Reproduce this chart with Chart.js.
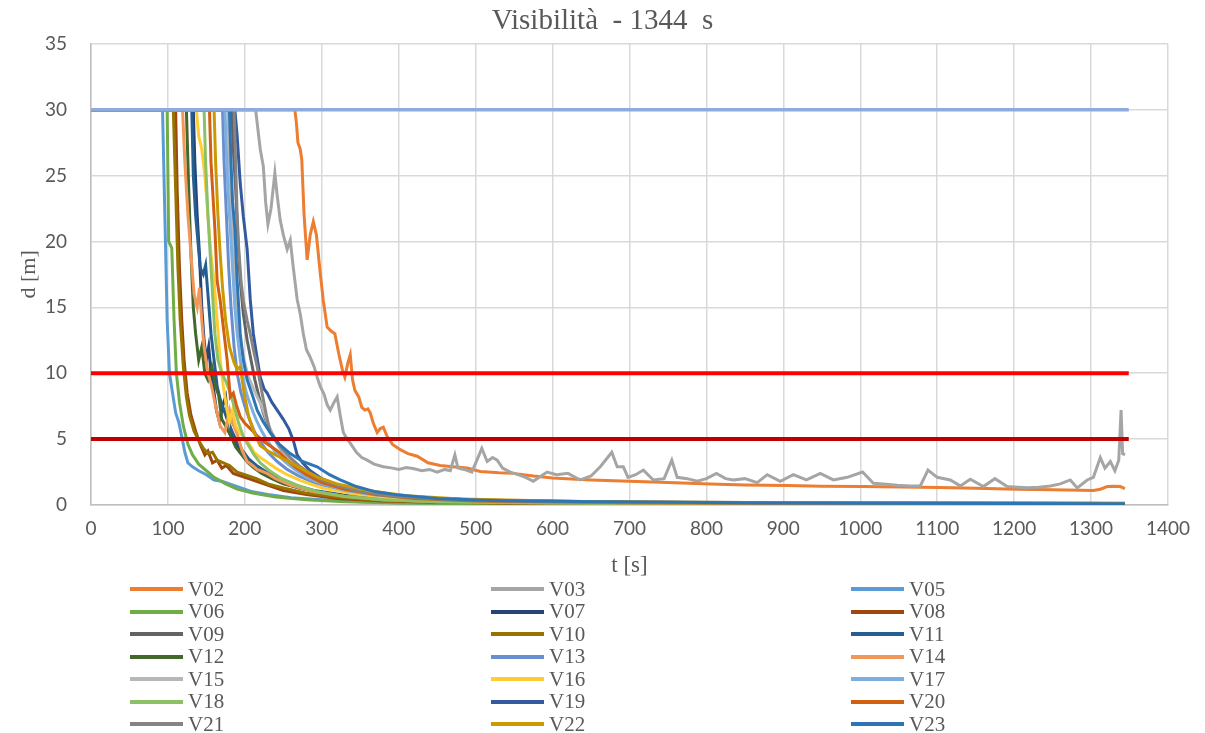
<!DOCTYPE html>
<html>
<head>
<meta charset="utf-8">
<script src="https://cdn.jsdelivr.net/npm/chart.js@4.4.1/dist/chart.umd.min.js"></script>
<style>
  html, body { margin: 0; padding: 0; background: #fff; }
  #wrap { position: relative; width: 1205px; height: 733px; }
  #legend { position: absolute; left: 0; top: 0; width: 1205px; height: 733px; pointer-events: none; }
  .item { position: absolute; height: 22px; display: flex; align-items: center; font-family: 'Liberation Serif', 'Times New Roman', serif; font-size: 21px; color: #595959; }
  .item .sw { display: inline-block; width: 53px; height: 4px; margin-right: 5px; }
</style>
</head>
<body>
<div id="wrap">
  <canvas id="visChart" width="1205" height="733"></canvas>
  <div id="legend"></div>
</div>
<script>
// time [s], visibility [m]
const v02 = [[0,30],[265,30],[267,29],[269,27.5],[272,27],[274,26.2],[277,22],[281,18.6],[285,20.5],[289,21.5],[293,20.5],[298,17.6],[302,15.5],[307,13.5],[312,13.2],[317,13],[322,11.5],[327,10.2],[330,9.7],[334,10.8],[337,11.4],[340,9.5],[343,8.7],[348,8.2],[352,7.4],[356,7.2],[360,7.3],[363,7.0],[367,6.2],[372,5.5],[376,5.8],[380,5.9],[385,5.2],[392,4.6],[402,4.2],[412,3.9],[424,3.7],[438,3.2],[454,3.0],[470,2.9],[489,2.8],[506,2.55],[530,2.45],[549,2.4],[575,2.2],[600,2.05],[650,1.9],[700,1.8],[750,1.7],[805,1.6],[850,1.52],[905,1.48],[950,1.43],[1004,1.4],[1052,1.37],[1104,1.32],[1150,1.27],[1204,1.2],[1250,1.15],[1303,1.1],[1312,1.2],[1321,1.4],[1330,1.42],[1338,1.4],[1344,1.25]];
const v03 = [[0,30],[214,30],[217,28.5],[220,27],[224,25.7],[227,23],[230,21.3],[234,22.5],[239,25.2],[242,23.5],[246,21.6],[250,20.5],[255,19.4],[259,20.1],[263,18],[268,15.6],[272,14.5],[276,13],[280,11.8],[285,11.2],[290,10.5],[294,9.7],[298,9.0],[303,8.4],[307,7.6],[311,7.2],[316,7.8],[320,8.2],[324,6.8],[328,5.5],[333,5.0],[337,4.7],[345,4.0],[352,3.6],[359,3.4],[368,3.1],[380,2.9],[392,2.8],[400,2.7],[410,2.85],[420,2.75],[430,2.6],[440,2.7],[450,2.5],[460,2.7],[467,2.6],[473,3.8],[477,2.8],[485,2.7],[495,2.5],[503,3.6],[508,4.3],[515,3.3],[522,3.6],[528,3.4],[535,2.8],[545,2.5],[555,2.3],[565,2.1],[575,1.8],[585,2.2],[593,2.5],[605,2.3],[620,2.4],[636,1.9],[650,2.2],[662,2.9],[677,4.0],[684,2.9],[692,2.9],[698,2.1],[708,2.3],[718,2.65],[731,1.9],[745,2.0],[755,3.4],[762,2.1],[775,2.0],[788,1.8],[800,2.0],[813,2.4],[825,2.0],[835,1.9],[850,2.0],[866,1.7],[879,2.3],[896,1.8],[913,2.3],[930,1.9],[948,2.4],[965,1.9],[983,2.1],[1003,2.5],[1017,1.65],[1030,1.6],[1048,1.5],[1065,1.45],[1078,1.45],[1088,2.65],[1100,2.1],[1117,1.9],[1130,1.45],[1143,1.95],[1160,1.4],[1175,2.0],[1191,1.4],[1205,1.35],[1217,1.3],[1232,1.35],[1247,1.45],[1260,1.6],[1273,1.9],[1282,1.3],[1295,1.9],[1303,2.1],[1312,3.6],[1318,2.8],[1325,3.3],[1331,2.6],[1336,3.4],[1339,7.2],[1341,3.9],[1344,3.8]];
const v05 = [[0,30],[93,30],[96,22],[99,14],[102,10],[106,8.5],[110,7],[114,6.3],[118,5.2],[122,4.0],[126,3.2],[132,2.9],[140,2.6],[150,2.3],[160,1.9],[170,1.8],[180,1.6],[195,1.3],[210,1.0],[230,0.8],[260,0.55],[300,0.4],[350,0.25],[400,0.18],[500,0.12],[700,0.08],[1000,0.06],[1344,0.05]];
const v06 = [[0,30],[99,30],[101,20],[105,19.5],[108,14],[111,10],[115,7.8],[120,6.0],[126,4.6],[132,3.8],[140,3.1],[150,2.6],[160,2.1],[175,1.6],[190,1.2],[210,0.9],[240,0.6],[280,0.4],[330,0.25],[400,0.15],[500,0.1],[800,0.06],[1344,0.05]];
const v07 = [[0,30],[133,30],[135,26],[138,22],[141,19],[144,15],[147,12.5],[150,11],[153,12],[156,10],[160,8.5],[163,7.2],[167,6.3],[171,7.5],[175,8.2],[178,6.5],[183,5.5],[190,4.5],[198,3.8],[207,3.2],[218,2.7],[230,2.2],[248,1.7],[270,1.3],[300,0.9],[340,0.6],[400,0.38],[480,0.24],[650,0.15],[1000,0.1],[1344,0.08]];
const v08 = [[0,30],[110,30],[112,24],[115,18],[118,14],[121,11],[125,8.5],[130,6.8],[136,5.6],[142,4.6],[148,3.8],[152,4.1],[158,3.2],[164,3.4],[170,2.8],[176,3.0],[185,2.4],[195,2.2],[205,2.0],[220,1.7],[235,1.4],[250,1.1],[280,0.8],[320,0.5],[380,0.3],[450,0.2],[600,0.12],[900,0.08],[1344,0.06]];
const v09 = [[0,30],[183,30],[185,27],[188,24],[191,20],[194,17],[198,14.5],[203,12.5],[208,11],[213,9.5],[218,8.3],[224,7],[230,6],[237,5.2],[245,4.4],[255,3.7],[268,3.0],[283,2.4],[300,1.9],[322,1.45],[350,1.05],[390,0.72],[450,0.47],[550,0.3],[700,0.2],[1000,0.14],[1344,0.12]];
const v10 = [[0,30],[107,30],[110,24],[113,18],[116,14],[120,10.5],[124,8.2],[128,6.8],[134,5.6],[140,4.9],[146,4.3],[152,3.9],[158,4.0],[164,3.4],[172,3.2],[180,3.0],[190,2.5],[200,2.3],[215,2.0],[230,1.6],[250,1.3],[280,0.9],[320,0.6],[380,0.35],[450,0.22],[600,0.14],[900,0.09],[1344,0.07]];
const v11 = [[0,30],[131,30],[133,25],[136,22],[139,20],[142,18],[146,17.5],[149,18.2],[152,16],[156,13],[160,11],[164,9],[168,8],[174,7],[180,6],[188,5],[196,4.2],[205,3.5],[215,3.0],[228,2.5],[245,2.0],[265,1.5],[290,1.1],[330,0.75],[380,0.5],[450,0.3],[600,0.18],[900,0.12],[1344,0.1]];
const v12 = [[0,30],[124,30],[127,24],[130,19],[133,15],[136,13],[140,11],[144,12],[148,10],[152,9.5],[157,10.5],[162,9],[166,8.3],[170,6.5],[176,5.9],[182,5.2],[188,4.4],[196,3.8],[204,3.2],[212,2.8],[222,2.4],[235,2.0],[250,1.6],[270,1.3],[300,0.9],[340,0.6],[400,0.35],[480,0.22],[650,0.14],[1000,0.09],[1344,0.07]];
const v13 = [[0,30],[171,30],[173,26],[176,22],[179,18],[182,15],[186,12],[190,10],[195,8.5],[200,7.5],[206,6.5],[213,5.5],[220,4.8],[230,4.0],[242,3.3],[255,2.7],[270,2.2],[290,1.7],[315,1.3],[350,0.9],[400,0.6],[470,0.38],[600,0.22],[900,0.14],[1344,0.11]];
const v14 = [[0,30],[119,30],[122,26],[126,22],[130,19],[134,16],[138,15],[141,16.5],[144,14],[147,12],[152,10],[156,9.2],[162,7.5],[168,6],[174,5.5],[180,7.2],[184,6.2],[190,5.4],[196,4.2],[203,3.3],[210,3.0],[216,2.7],[229,2.4],[240,2.0],[260,1.5],[290,1.0],[330,0.65],[380,0.4],[450,0.25],[600,0.15],[900,0.1],[1344,0.08]];
const v15 = [[0,30],[178,30],[180,26],[183,22],[186,18],[190,15],[194,12.5],[199,11],[204,9.8],[210,9],[216,8.2],[222,7.5],[228,6.5],[235,5.5],[243,4.6],[252,3.9],[264,3.2],[278,2.6],[295,2.0],[318,1.5],[350,1.05],[390,0.72],[450,0.47],[550,0.3],[700,0.2],[1000,0.14],[1344,0.12]];
const v16 = [[0,30],[137,30],[140,28],[144,27],[148,25],[152,22],[156,19],[160,17],[164,14],[168,11],[172,9],[176,7.5],[180,6.3],[184,7.2],[188,6.0],[193,5.5],[198,5.2],[205,4.7],[212,4.0],[220,3.6],[230,3.2],[240,2.8],[255,2.3],[275,1.8],[300,1.3],[340,0.85],[400,0.5],[480,0.3],[650,0.18],[1000,0.12],[1344,0.1]];
const v17 = [[0,30],[174,30],[176,27],[178,24],[181,21],[184,18],[187,15],[190,13],[194,11],[198,9.5],[202,8.5],[206,7.8],[211,7],[216,6.3],[222,5.6],[230,4.8],[240,4.0],[252,3.3],[265,2.7],[280,2.1],[300,1.6],[330,1.1],[370,0.75],[420,0.5],[500,0.3],[680,0.18]];
const v18 = [[0,30],[147,30],[149,26],[152,22],[155,19],[158,16],[161,13],[165,11],[170,10],[176,9.3],[181,8.5],[186,7.5],[192,6.2],[198,5.2],[205,4.5],[212,3.8],[220,3.2],[232,2.6],[248,2.0],[268,1.5],[295,1.0],[330,0.65],[380,0.4],[450,0.25],[600,0.15],[900,0.1],[1344,0.08]];
const v19 = [[0,30],[187,30],[190,28],[194,24.4],[198,21.9],[203,19.4],[207,15.6],[211,13],[215,11.5],[220,9.7],[225,8.8],[229,8.5],[235,7.8],[242,7.2],[250,6.5],[257,5.8],[263,4.9],[268,3.8],[275,3.2],[285,2.6],[300,2.0],[320,1.5],[350,1.1],[390,0.75],[450,0.5],[550,0.32],[700,0.22],[1000,0.15],[1344,0.13]];
const v20 = [[0,30],[154,30],[156,26],[158,24],[161,21],[164,17],[168,15.5],[172,13.5],[177,11],[181,8.2],[185,8.5],[189,7.6],[194,6.7],[200,6.2],[207,5.8],[215,5.3],[225,4.8],[235,4.4],[245,4.0],[255,3.4],[265,2.9],[280,2.3],[300,1.7],[330,1.2],[370,0.8],[420,0.5],[500,0.3],[700,0.18],[1000,0.12],[1344,0.1]];
const v21 = [[0,30],[186,30],[188,26],[190,22],[192,19.5],[195,17],[198,15.5],[203,14],[207,13],[211,11.8],[216,10.5],[220,9.2],[224,8],[228,6.8],[233,5.5],[240,4.9],[248,4.3],[259,3.6],[270,3.0],[285,2.4],[300,1.9],[320,1.5],[350,1.05],[390,0.7],[450,0.45],[550,0.3],[700,0.2],[1000,0.14],[1344,0.12]];
const v22 = [[0,30],[160,30],[162,26],[165,22],[168,19],[171,16.5],[175,14],[180,12],[186,10.8],[190,10.3],[194,10.5],[199,8.5],[205,6.7],[212,5.5],[220,4.5],[230,4.1],[240,3.8],[250,3.5],[260,3.2],[275,2.7],[295,2.1],[320,1.6],[360,1.1],[410,0.7],[480,0.45],[650,0.25],[1000,0.15],[1344,0.12]];
const v23 = [[0,30],[180,30],[182,26],[184,23],[187,21],[190,17],[192,15],[194,13],[198,11],[203,9.5],[210,8.3],[216,7.2],[224,6.3],[233,5.5],[245,4.6],[259,3.9],[275,3.3],[294,2.9],[310,2.3],[324,1.9],[345,1.4],[370,1.0],[400,0.75],[450,0.5],[520,0.35],[600,0.28],[700,0.22],[850,0.17],[1000,0.14],[1200,0.12],[1344,0.1]];

const seriesNames = ['V02','V03','V05','V06','V07','V08','V09','V10','V11','V12','V13','V14','V15','V16','V17','V18','V19','V20','V21','V22','V23'];
const seriesData = [v02, v03, v05, v06, v07, v08, v09, v10, v11, v12, v13, v14, v15, v16, v17, v18, v19, v20, v21, v22, v23];
const seriesColors = ['#ED7D31','#A5A5A5','#5B9BD5','#70AD47','#264478','#9E480E','#636363','#997300','#255E91','#43682B','#698ED0','#F1975A','#B7B7B7','#FFCD33','#7CAFDD','#8CC168','#335AA1','#D26012','#848484','#CC9A00','#2E75B6'];

// reference levels [m] and the span they are drawn over [s]
const refLevels = [30, 10, 5];
const refColors = ['#8FAADC', '#FF0000', '#C00000'];
const refSpan = [0, 1349];

const xTicks = { min: 0, max: 1400, step: 100 };
const yTicks = { min: 0, max: 35, step: 5 };

const txtColor = '#595959';
const tickFont = { family: 'Lato', size: 19 };
const serif = 'Liberation Serif';

const datasets = [];
refLevels.forEach((lvl, i) => {
    datasets.push({
        label: 'ref' + lvl,
        data: refSpan.map(t => ({ x: t, y: lvl })),
        borderColor: refColors[i],
        borderWidth: i === 0 ? 3.5 : 4,
        pointRadius: 0,
        order: 0
    });
});
seriesData.forEach((pts, i) => {
    datasets.push({
        label: seriesNames[i],
        data: pts.map(p => ({ x: p[0], y: p[1] })),
        borderColor: seriesColors[i],
        borderWidth: 3,
        pointRadius: 0,
        tension: 0,
        order: 100 - i
    });
});

const ctx = document.getElementById('visChart').getContext('2d');
const chart = new Chart(ctx, {
    type: 'line',
    data: { datasets: datasets },
    options: {
        responsive: false,
        animation: false,
        layout: { padding: { left: 0, right: 0, top: 0, bottom: 153 } },
        plugins: {
            legend: { display: false },
            tooltip: { enabled: false },
            title: {
                display: true,
                text: 'Visibilità  - 1344  s',
                color: txtColor,
                font: { family: serif, size: 29, weight: 'normal' },
                padding: { top: 4, bottom: 5 }
            }
        },
        scales: {
            x: {
                type: 'linear',
                min: xTicks.min,
                max: xTicks.max,
                ticks: { stepSize: xTicks.step, color: txtColor, font: tickFont, padding: 12, maxRotation: 0, callback: v => String(v) },
                grid: { color: '#D9D9D9', lineWidth: 1.5, drawTicks: false },
                border: { color: '#BFBFBF', width: 1.5 },
                title: { display: true, text: 't [s]', color: txtColor, font: { family: serif, size: 23 }, padding: { top: 0, bottom: 0 } },
                afterFit: s => { s.height = 75; s.paddingRight = 37; }
            },
            y: {
                min: yTicks.min,
                max: yTicks.max,
                ticks: { stepSize: yTicks.step, color: txtColor, font: tickFont, padding: 24 },
                grid: { color: '#D9D9D9', lineWidth: 1.5, drawTicks: false },
                border: { color: '#BFBFBF', width: 1.5 },
                title: { display: true, text: 'd [m]', color: txtColor, font: { family: serif, size: 22 }, padding: { top: 16, bottom: 0 } },
                afterFit: s => { s.width = 91; }
            }
        }
    }
});

// legend: three columns under the plot
const legend = document.getElementById('legend');
const colX = [130, 491, 851];
seriesNames.forEach((name, i) => {
    const item = document.createElement('div');
    item.className = 'item';
    item.style.left = colX[i % 3] + 'px';
    item.style.top = (589 + Math.floor(i / 3) * 22.5 - 11) + 'px';
    const sw = document.createElement('span');
    sw.className = 'sw';
    sw.style.background = seriesColors[i];
    item.appendChild(sw);
    item.appendChild(document.createTextNode(name));
    legend.appendChild(item);
});
</script>
</body>
</html>
